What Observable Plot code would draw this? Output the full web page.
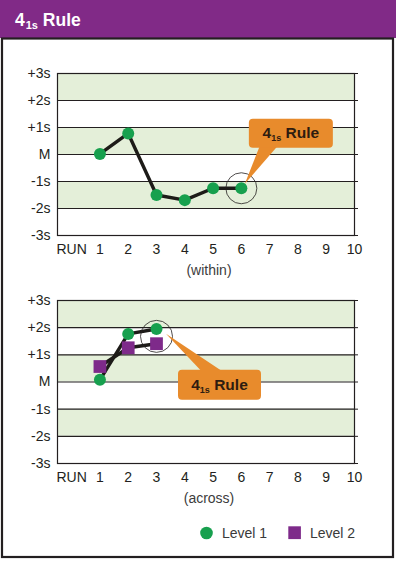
<!DOCTYPE html>
<html><head><meta charset="utf-8">
<script src="https://cdn.jsdelivr.net/npm/d3@7"></script>
<script src="https://cdn.jsdelivr.net/npm/@observablehq/plot@0.6"></script>
<style>
body{margin:0;background:#fff;font-family:"Liberation Sans",Arial,Helvetica,sans-serif;}
#wrap{position:relative;width:396px;height:561px;overflow:hidden;background:#fff;}
#bg{position:absolute;left:0;top:0;}
.chart{position:absolute;left:0;}
</style></head>
<body><div id="wrap"><svg id="bg" width="396" height="561"></svg></div>
<script>
// ---- data ----
const sdTicks = [-3, -2, -1, 0, 1, 2, 3];
const sdLabels = ["-3s", "-2s", "-1s", "M", "+1s", "+2s", "+3s"];
const runTicks = [0, 1, 2, 3, 4, 5, 6, 7, 8, 9, 10];
const runLabels = ["RUN", "1", "2", "3", "4", "5", "6", "7", "8", "9", "10"];
const bandLows = [2, 0, -2];
const bandHighs = [3, 1, -1];
const withinRuns = [1, 2, 3, 4, 5, 6];
const withinLevel1 = [0.02, 0.78, -1.5, -1.69, -1.25, -1.25];
const acrossRuns = [1, 2, 3];
const acrossLevel1 = [0.08, 1.77, 1.95];
const acrossLevel2 = [0.57, 1.26, 1.41];
const legendLabels = ["Level 1", "Level 2"];
const ruleText = ["4", "1s", " Rule"];

// ---- styles ----
const INK = "#231f20", GREEN = "#17a04e", PURPLE = "#7e2a8a", BAND = "#e4efd9", ORANGE = "#e88b2c", HEAD = "#812a87";
const FONT = '"Liberation Sans", Arial, Helvetica, sans-serif';

const bands = bandLows.map((lo, i) => ({lo, hi: bandHighs[i]}));
const toRows = (runs, vals, level) => runs.map((run, i) => ({run, value: vals[i], level}));

function calloutMark(anchor, o) {
  return (index, scales) => {
    const px = scales.x(anchor.run), py = scales.y(anchor.value);
    const g = d3.create("svg:g");
    g.append("path")
      .attr("d", `M${px + o.b1[0]},${py + o.b1[1]}L${px + o.tip[0]},${py + o.tip[1]}L${px + o.b2[0]},${py + o.b2[1]}Z`)
      .attr("fill", ORANGE);
    const x1 = px + o.box[0], x2 = px + o.box[1], y1 = py + o.box[2], y2 = py + o.box[3];
    g.append("rect").attr("x", x1).attr("y", y1).attr("width", x2 - x1).attr("height", y2 - y1)
      .attr("rx", 4).attr("fill", ORANGE);
    const t = g.append("text").attr("x", (x1 + x2) / 2).attr("y", (y1 + y2) / 2 + 5)
      .attr("text-anchor", "middle").attr("font-weight", "bold").attr("font-size", 15.5)
      .attr("font-family", FONT).attr("fill", "#2e1c10");
    t.append("tspan").text(ruleText[0]);
    t.append("tspan").attr("font-size", 9).attr("dy", 3).text(ruleText[1]);
    t.append("tspan").attr("dy", -3).text(ruleText[2]);
    return g.node();
  };
}

function sdChart({rows, hl, callout, xLabel, top, height, marginTop, marginBottom}) {
  const l1 = rows.filter(d => d.level === 1);
  const l2 = rows.filter(d => d.level === 2);
  const marks = [
    Plot.rect(bands, {y1: "lo", y2: "hi", fill: BAND}),
    Plot.ruleY(sdTicks, {stroke: INK, strokeWidth: 1.1}),
    Plot.axisY({anchor: "right", ticks: sdTicks, tickSize: 3, tickFormat: () => "", stroke: INK, label: null}),
    Plot.frame({stroke: INK, strokeWidth: 1.2}),
    Plot.axisY({ticks: sdTicks, tickFormat: d => sdLabels[sdTicks.indexOf(d)], tickSize: 0, tickPadding: 7, label: null, fontSize: 14, fill: INK}),
    Plot.axisX({ticks: runTicks, tickFormat: d => runLabels[runTicks.indexOf(d)], tickSize: 0, tickPadding: 8.5, label: null, fontSize: 14, fill: INK}),
    Plot.text([xLabel], {text: d => d, frameAnchor: "bottom", lineAnchor: "middle", dy: 35, dx: 3, fontSize: 14, fill: "#3c3c3c"}),
    Plot.line(rows, {x: "run", y: "value", z: "level", stroke: "#1d1b18", strokeWidth: 3.4}),
    Plot.dot(l1, {x: "run", y: "value", r: 6, fill: GREEN}),
    Plot.dot(l2, {x: "run", y: "value", r: 7.2, symbol: "square", fill: PURPLE}),
    Plot.dot([hl], {x: "run", y: "value", r: hl.r, fill: "none", stroke: INK, strokeWidth: 0.8}),
    calloutMark(hl, callout)
  ];
  const svg = Plot.plot({
    width: 396, height, marginLeft: 57, marginRight: 42, marginTop, marginBottom,
    x: {domain: [-0.5, 10]}, y: {domain: [-3, 3]},
    style: {fontFamily: FONT, fontSize: "14px", color: INK, background: "transparent", overflow: "visible"},
    marks
  });
  svg.classList.add("chart");
  svg.style.top = top + "px";
  document.getElementById("wrap").appendChild(svg);
}

// background: header, panel, title, legend
const bg = d3.select("#bg");
bg.append("rect").attr("x", 0).attr("y", 0).attr("width", 396).attr("height", 38).attr("fill", HEAD);
bg.append("rect").attr("x", 2).attr("y", 38.5).attr("width", 391).attr("height", 518.5)
  .attr("fill", "#fff").attr("stroke", INK).attr("stroke-width", 2.2);
const title = bg.append("text").attr("x", 15).attr("y", 26).attr("fill", "#fff")
  .attr("font-family", FONT).attr("font-weight", "bold").attr("font-size", 17.5);
title.append("tspan").text(ruleText[0]);
title.append("tspan").attr("font-size", 11).attr("dy", 3).attr("dx", 1).text(ruleText[1]);
title.append("tspan").attr("dy", -3).text(ruleText[2]);

// legend
bg.append("circle").attr("cx", 206.5).attr("cy", 533).attr("r", 6.3).attr("fill", GREEN);
bg.append("rect").attr("x", 288.3).attr("y", 526.3).attr("width", 12.6).attr("height", 12.8).attr("fill", PURPLE);
[[222, legendLabels[0]], [310, legendLabels[1]]].forEach(([x, s]) =>
  bg.append("text").attr("x", x).attr("y", 538.3).attr("font-family", FONT).attr("font-size", 14)
    .attr("fill", "#3a3a3a").text(s));

// charts
sdChart({
  rows: toRows(withinRuns, withinLevel1, 1),
  hl: {run: 6, value: withinLevel1[5], r: 15.5},
  callout: {box: [8, 92, -69, -40], b1: [19, -42], b2: [37, -42], tip: [4, -4]},
  xLabel: "(within)", top: 60, height: 220, marginTop: 13, marginBottom: 45
});
sdChart({
  rows: toRows(acrossRuns, acrossLevel1, 1).concat(toRows(acrossRuns, acrossLevel2, 2)),
  hl: {run: 3, value: (acrossLevel1[2] + acrossLevel2[2]) / 2, r: 16},
  callout: {box: [22, 105, 34, 64], b1: [46, 36], b2: [67, 36], tip: [10, -2]},
  xLabel: "(across)", top: 285, height: 225, marginTop: 15, marginBottom: 47
});
</script></body></html>
